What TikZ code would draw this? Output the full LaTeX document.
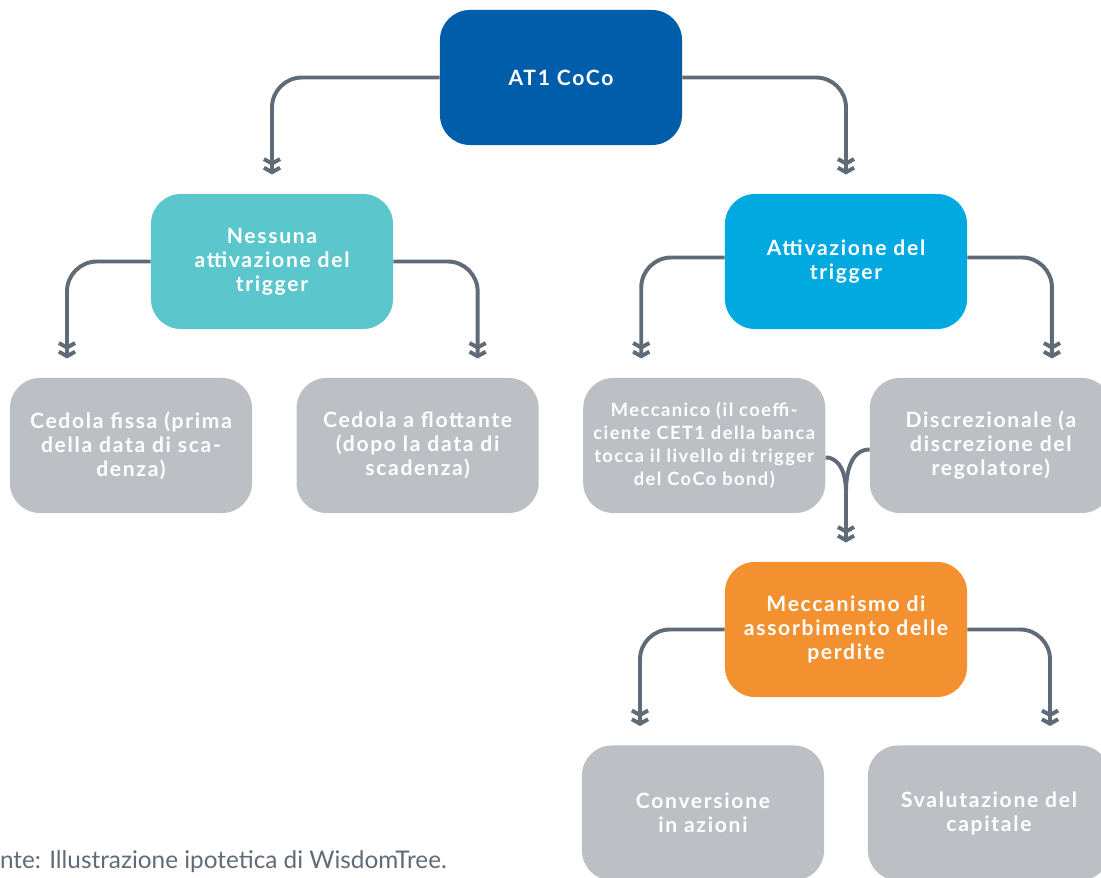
\documentclass[tikz,border=0pt]{standalone}
\usepackage{fontspec}
\setmainfont{Lato}
\newfontfamily\boxfont{Lato}[LetterSpace=8]
\usepackage{tikz}
\usetikzlibrary{arrows.meta,positioning,calc}

\definecolor{cocoblue}{HTML}{005DAA}
\definecolor{noteal}{HTML}{5BC6CC}
\definecolor{trigcyan}{HTML}{00A9E0}
\definecolor{lossorange}{HTML}{F39130}
\definecolor{leafgray}{HTML}{BCC0C4}
\definecolor{linegray}{HTML}{5F6B76}

\begin{document}
\begin{tikzpicture}[x=0.025cm, y=-0.025cm,
    box/.style={rectangle, rounded corners=0.75cm, minimum width=6.05cm, minimum height=3.375cm, align=center, text=white, inner sep=2pt, font=\boxfont\fontsize{15pt}{17.1pt}\selectfont\bfseries},
    leaf/.style={box, fill=leafgray},
    conn/.style={draw=linegray, line width=2.8pt, rounded corners=0.75cm, shorten >=0.48cm, -{Straight Barb[length=3.2pt,width=11.5pt] Straight Barb[length=3.2pt,width=11.5pt]}},
    mergeline/.style={draw=linegray, line width=2.8pt}]

    \path[use as bounding box, clip] (0,0) rectangle (1101,878);

    % Root
    \node[box, fill=cocoblue] (coco) at (561,77.5) {AT1 CoCo};

    % Second level
    \node[box, fill=noteal] (nessuna) at (272,261.5) {Nessuna\\attivazione del\\trigger};
    \node[box, fill=trigcyan] (attiv) at (846,261.5) {Attivazione del\\trigger};

    % Third level
    \node[leaf] (fissa) at (131,445.5) {Cedola fissa (prima\\della data di sca-\\denza)};
    \node[leaf, right=1.1cm of fissa] (flott) {Cedola a flottante\\(dopo la data di\\scadenza)};
    \node[leaf, right=1.1cm of flott, font=\boxfont\fontsize{13pt}{16.4pt}\selectfont\bfseries] (mecc) {Meccanico (il coeffi-\\ciente CET1 della banca\\tocca il livello di trigger\\del CoCo bond)};
    \node[leaf, right=1.1cm of mecc] (discr) {Discrezionale (a\\discrezione del\\regolatore)};

    % Loss absorption
    \node[box, fill=lossorange] (perdite) at (846,629.5) {Meccanismo di\\assorbimento delle\\perdite};
    \node[leaf] (conv) at (703,813) {Conversione\\in azioni};
    \node[leaf] (sval) at (989,813) {Svalutazione del\\capitale};

    % Source line
    \node[anchor=base east, inner sep=0pt, text=linegray, font=\fontsize{17.3pt}{20pt}\selectfont] (fonte) at (447,869) {Fonte: Illustrazione ipotetica di WisdomTree.};

    % Connectors
    \draw[conn] (coco.west) -| (nessuna.north);
    \draw[conn] (coco.east) -| (attiv.north);
    \draw[conn] (nessuna.west) -| ([xshift=-1.6cm]fissa.north);
    \draw[conn] (nessuna.east) -| ([xshift=1.5cm]flott.north);
    \draw[conn] ([yshift=0.1cm]attiv.west) -| ([xshift=-1.575cm]mecc.north);
    \draw[conn] ([yshift=0.1cm]attiv.east) -| ([xshift=1.525cm]discr.north);

    % Merge into loss absorption
    \coordinate (merge) at (846,492);
    \draw[mergeline] ([yshift=-0.3cm]mecc.east) to[out=0, in=90] (merge);
    \draw[mergeline] ([yshift=-0.1cm]discr.west) to[out=180, in=90] (merge);
    \draw[conn] (merge) -- (perdite.north);

    \draw[conn] (perdite.west) -| ([xshift=-1.575cm]conv.north);
    \draw[conn] (perdite.east) -| ([xshift=1.525cm]sval.north);

\end{tikzpicture}
\end{document}
